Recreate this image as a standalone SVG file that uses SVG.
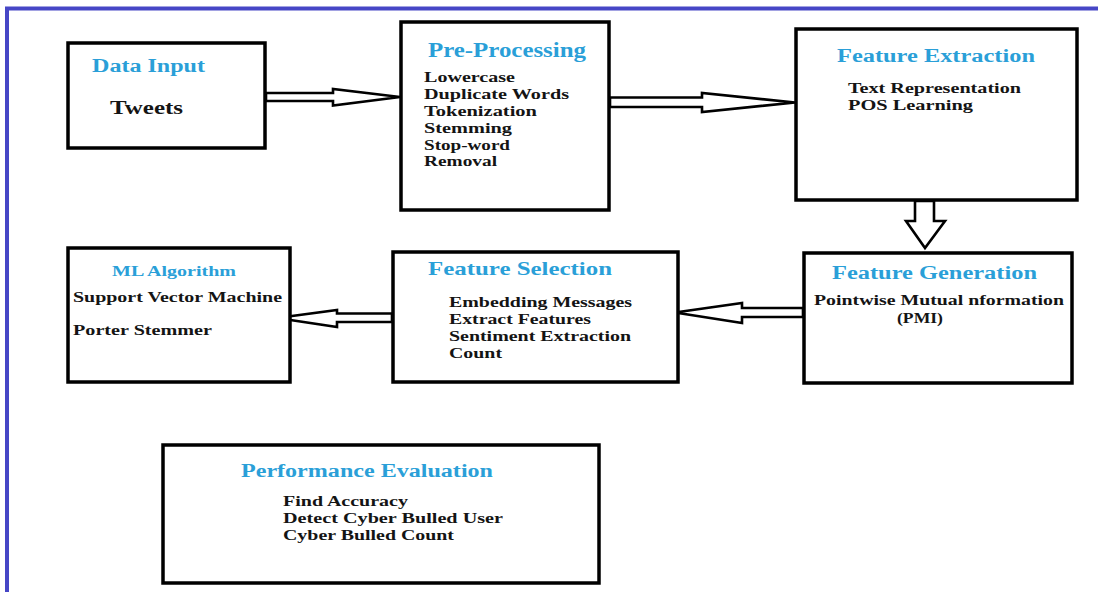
<svg xmlns="http://www.w3.org/2000/svg" width="1098" height="592" viewBox="0 0 1098 592" font-family="'Liberation Serif', 'DejaVu Serif', serif">
  <defs>
    <style>
      .box { fill: #ffffff; stroke: #000000; stroke-width: 3.5; }
      .arrow { fill: #ffffff; stroke: #000000; stroke-width: 2.6; stroke-linejoin: miter; }
      text { font-family: 'Liberation Serif', 'DejaVu Serif', serif; font-weight: bold; }
      .title { fill: #2a9fd8; }
      .body { fill: #141414; font-size: 15px; }
    </style>
  </defs>

  <!-- page background and frame -->
  <rect x="0" y="0" width="1098" height="592" fill="#ffffff"/>
  <path d="M7 592 V8.5 H1098" fill="none" stroke="#4646c6" stroke-width="4"/>

  <!-- connectors -->
  <g id="connectors">
    <polygon class="arrow" points="266,93 333,93 333,89 400,97 333,105.5 333,101 266,101"/>
    <polygon class="arrow" points="610,97.5 702,97.5 702,93 795,102.5 702,112 702,107 610,107"/>
    <polygon class="arrow" points="915,201 915,221 906,221 925,248 945,221 934,221 934,201"/>
    <polygon class="arrow" points="803,308 742,308 742,303 675,312.5 742,323 742,317 803,317"/>
    <polygon class="arrow" points="392,313.5 337,313.5 337,310 277,318 337,327 337,322 392,322"/>
  </g>

  <!-- Data Input -->
  <g id="data-input">
    <rect class="box" x="68" y="43" width="197" height="105"/>
    <text class="title" x="92" y="72" font-size="18" textLength="113" lengthAdjust="spacingAndGlyphs">Data Input</text>
    <text class="body" x="110" y="114" textLength="73" lengthAdjust="spacingAndGlyphs" style="font-size:18px">Tweets</text>
  </g>

  <!-- Pre-Processing -->
  <g id="pre-processing">
    <rect class="box" x="401" y="22" width="208" height="188"/>
    <text class="title" x="428" y="57" font-size="20" textLength="158" lengthAdjust="spacingAndGlyphs">Pre-Processing</text>
    <text class="body" x="424" y="82" textLength="91" lengthAdjust="spacingAndGlyphs">Lowercase</text>
    <text class="body" x="424" y="99" textLength="145" lengthAdjust="spacingAndGlyphs">Duplicate Words</text>
    <text class="body" x="424" y="116" textLength="113" lengthAdjust="spacingAndGlyphs">Tokenization</text>
    <text class="body" x="424" y="133" textLength="88" lengthAdjust="spacingAndGlyphs">Stemming</text>
    <text class="body" x="424" y="150" textLength="86" lengthAdjust="spacingAndGlyphs">Stop-word</text>
    <text class="body" x="424" y="166" textLength="73" lengthAdjust="spacingAndGlyphs">Removal</text>
  </g>

  <!-- Feature Extraction -->
  <g id="feature-extraction">
    <rect class="box" x="796" y="29" width="281" height="171"/>
    <text class="title" x="837" y="62" font-size="18" textLength="198" lengthAdjust="spacingAndGlyphs">Feature Extraction</text>
    <text class="body" x="848" y="93" textLength="173" lengthAdjust="spacingAndGlyphs">Text Representation</text>
    <text class="body" x="848" y="110" textLength="125" lengthAdjust="spacingAndGlyphs">POS Learning</text>
  </g>

  <!-- Feature Generation -->
  <g id="feature-generation">
    <rect class="box" x="804" y="253" width="268" height="130"/>
    <text class="title" x="832" y="279" font-size="18" textLength="205" lengthAdjust="spacingAndGlyphs">Feature Generation</text>
    <text class="body" x="814" y="305" textLength="250" lengthAdjust="spacingAndGlyphs">Pointwise Mutual nformation</text>
    <text class="body" x="897" y="323" textLength="46" lengthAdjust="spacingAndGlyphs">(PMI)</text>
  </g>

  <!-- Feature Selection -->
  <g id="feature-selection">
    <rect class="box" x="393" y="252" width="285" height="130"/>
    <text class="title" x="428" y="275" font-size="19" textLength="184" lengthAdjust="spacingAndGlyphs">Feature Selection</text>
    <text class="body" x="449" y="307" textLength="183" lengthAdjust="spacingAndGlyphs">Embedding Messages</text>
    <text class="body" x="449" y="324" textLength="142" lengthAdjust="spacingAndGlyphs">Extract Features</text>
    <text class="body" x="449" y="341" textLength="182" lengthAdjust="spacingAndGlyphs">Sentiment Extraction</text>
    <text class="body" x="449" y="358" textLength="53" lengthAdjust="spacingAndGlyphs">Count</text>
  </g>

  <!-- ML Algorithm -->
  <g id="ml-algorithm">
    <rect class="box" x="68" y="248" width="222" height="134"/>
    <text class="title" x="112" y="276" font-size="15" textLength="124" lengthAdjust="spacingAndGlyphs">ML Algorithm</text>
    <text class="body" x="73" y="302" textLength="209" lengthAdjust="spacingAndGlyphs">Support Vector Machine</text>
    <text class="body" x="73" y="335" textLength="139" lengthAdjust="spacingAndGlyphs">Porter Stemmer</text>
  </g>

  <!-- Performance Evaluation -->
  <g id="performance-evaluation">
    <rect class="box" x="163" y="445" width="436" height="138"/>
    <text class="title" x="241" y="477" font-size="18" textLength="252" lengthAdjust="spacingAndGlyphs">Performance Evaluation</text>
    <text class="body" x="283" y="506" textLength="125" lengthAdjust="spacingAndGlyphs">Find Accuracy</text>
    <text class="body" x="283" y="523" textLength="220" lengthAdjust="spacingAndGlyphs">Detect Cyber Bulled User</text>
    <text class="body" x="283" y="540" textLength="171" lengthAdjust="spacingAndGlyphs">Cyber Bulled Count</text>
  </g>
</svg>
